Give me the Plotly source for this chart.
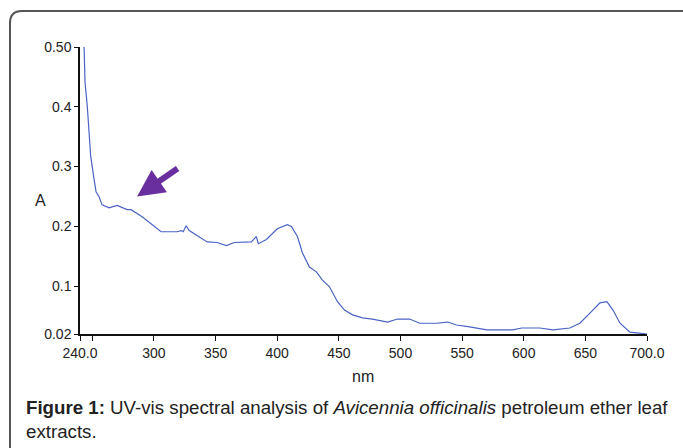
import plotly.graph_objects as go

wavelength = [243.3, 244.1, 245.9, 247.3, 248.7, 251.4, 253.0, 255.4, 257.9, 263.6, 270.1, 278.2,
              281.4, 290.4, 298.5, 305.8, 318.8, 322.1, 323.7, 326.1, 328.6, 336.7, 343.2, 351.3,
              358.7, 365.2, 379.0, 383.0, 384.7, 391.2, 400.1, 408.2, 411.5, 416.4, 420.4, 426.1,
              431.8, 436.7, 442.4, 448.9, 454.6, 461.1, 469.2, 477.3, 489.5, 497.6, 507.4, 515.5,
              529.3, 538.3, 545.6, 556.1, 570.0, 591.1, 598.4, 613.0, 623.6, 637.4, 645.5, 653.7,
              661.8, 667.5, 672.4, 678.1, 686.2, 691.9, 700.0]
absorbance = [0.501, 0.441, 0.401, 0.357, 0.317, 0.279, 0.258, 0.250, 0.236, 0.231, 0.235, 0.228,
              0.228, 0.216, 0.203, 0.191, 0.191, 0.193, 0.191, 0.201, 0.193, 0.183, 0.174, 0.173,
              0.168, 0.173, 0.174, 0.183, 0.171, 0.178, 0.196, 0.203, 0.200, 0.183, 0.156, 0.132,
              0.124, 0.110, 0.099, 0.074, 0.060, 0.052, 0.047, 0.045, 0.040, 0.045, 0.045, 0.038,
              0.038, 0.040, 0.035, 0.032, 0.027, 0.027, 0.030, 0.030, 0.027, 0.030, 0.038, 0.055,
              0.072, 0.074, 0.060, 0.038, 0.023, 0.022, 0.020]

x_tick_vals = [240, 250, 300, 350, 400, 450, 500, 550, 600, 650, 700]
x_tick_text = ["240.0", "", "300", "350", "400", "450", "500", "550", "600", "650", "700.0"]
y_tick_vals = [0.02, 0.1, 0.2, 0.3, 0.4, 0.5]
y_tick_text = ["0.02", "0.1", "0.2", "0.3", "0.4", "0.50"]

tick_font = dict(family="Liberation Sans, Arial", size=14, color="#222")

fig = go.Figure()
fig.add_trace(go.Scatter(x=wavelength, y=absorbance, mode="lines",
                         line=dict(color="#4a63c4", width=1.2), hoverinfo="skip"))

fig.update_layout(
    width=683, height=448,
    margin=dict(l=80, r=36, t=47, b=114),
    paper_bgcolor="white", plot_bgcolor="white",
    showlegend=False,
    xaxis=dict(range=[240, 700], tickvals=x_tick_vals, ticktext=x_tick_text,
               showgrid=False, zeroline=False, showline=True, linecolor="#111", linewidth=1.5,
               ticks="outside", ticklen=5, tickcolor="#111", tickfont=tick_font),
    yaxis=dict(range=[0.02, 0.50], tickvals=y_tick_vals, ticktext=y_tick_text,
               showgrid=False, zeroline=False, showline=True, linecolor="#111", linewidth=1.5,
               ticks="outside", ticklen=4, tickcolor="#111", tickfont=tick_font),
)

def px(xp):
    return (xp - 80) / 567.0

def py(yp):
    return (334 - yp) / 287.0

# rounded frame
x0, y0, x1, y1 = px(10), py(11), px(720), py(470)
rx = 12 / 567.0
ry = 12 / 287.0
path = (f"M {x0} {y1} L {x0} {y0 - ry} Q {x0} {y0} {x0 + rx} {y0} "
        f"L {x1} {y0}")
fig.add_shape(type="path", xref="paper", yref="paper", path=path,
              line=dict(color="#555", width=2))

fig.add_annotation(xref="paper", yref="paper", x=px(40), y=py(200), text="A",
                   xanchor="center", yanchor="middle",
                   showarrow=False, font=dict(family="Liberation Sans, Arial", size=16, color="#222"))
fig.add_annotation(xref="paper", yref="paper", x=px(363), y=py(376), text="nm",
                   xanchor="center", yanchor="middle",
                   showarrow=False, font=dict(family="Liberation Sans, Arial", size=16, color="#222"))

fig.add_annotation(xref="paper", yref="paper", x=px(24), y=py(419), xanchor="left", yanchor="middle",
                   align="left",
                   text="<b>Figure 1:</b> UV-vis spectral analysis of <i>Avicennia officinalis</i> petroleum ether leaf<br>extracts.",
                   showarrow=False, font=dict(family="Liberation Sans, Arial", size=18.7, color="#222"))

# purple arrow
fig.add_annotation(x=286.3, y=0.250, xref="x", yref="y", ax=42, ay=-29,
                   showarrow=True, arrowhead=2, arrowsize=0.9, arrowwidth=6,
                   arrowcolor="#6a2f9e", text="")

fig.write_html("out.html")
